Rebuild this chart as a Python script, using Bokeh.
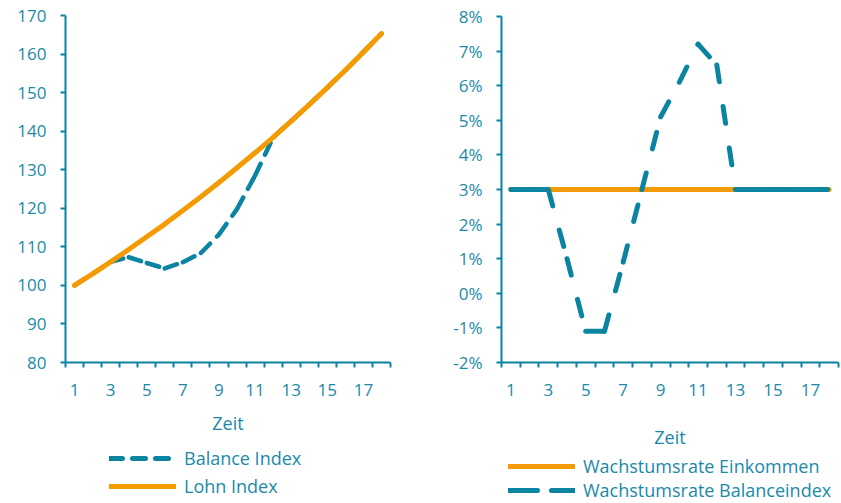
from bokeh.plotting import figure
from bokeh.layouts import row, column
from bokeh.models import (FixedTicker, Range1d, Legend, LegendItem,
                          PrintfTickFormatter)
from bokeh.embed import file_html
from bokeh.resources import INLINE

# ---- data ----
zeit = list(range(1, 19))
x_tick_labels = [1, 3, 5, 7, 9, 11, 13, 15, 17]
balance_index = [100, 103, 106.1, 107.3, 105.8, 104.4, 106.0, 108.4, 113.2,
                 119.8, 128.5, 138.4, 142.6, 146.9, 151.3, 155.8, 160.5, 165.3]
lohn_index = [100, 103, 106.1, 109.3, 112.6, 115.9, 119.4, 123.0, 126.7,
              130.5, 134.4, 138.4, 142.6, 146.9, 151.3, 155.8, 160.5, 165.3]
wachstum_einkommen = [3.0] * 18
wachstum_balance = [3.0, 3.0, 3.0, 1.0, -1.1, -1.1, 0.9, 3.0, 5.1,
                    6.1, 7.2, 6.6, 3.0, 3.0, 3.0, 3.0, 3.0, 3.0]
left_y_ticks = list(range(80, 171, 10))
right_y_ticks = list(range(-2, 9))
left_labels = ["Balance Index", "Lohn Index"]
right_labels = ["Wachstumsrate Einkommen", "Wachstumsrate Balanceindex"]

TEAL = "#0a84a1"
TEXT = "#1b8aa7"
ORANGE = "#f39b00"
FONT = "Open Sans"
FS = "17px"
FS_BIG = "18px"


def segments(xs, ys):
    return ([[xs[i], xs[i + 1]] for i in range(len(xs) - 1)],
            [[ys[i], ys[i + 1]] for i in range(len(ys) - 1)])


def style(p, yticks):
    p.outline_line_color = None
    p.xgrid.grid_line_color = None
    p.ygrid.grid_line_color = None
    p.background_fill_color = "white"
    p.border_fill_color = "white"
    minor = [i + 0.5 for i in range(0, 19)]
    p.xaxis.ticker = FixedTicker(ticks=x_tick_labels, minor_ticks=minor)
    p.yaxis.ticker = FixedTicker(ticks=yticks, minor_ticks=[])
    for ax in (p.xaxis[0], p.yaxis[0]):
        ax.axis_line_color = TEAL
        ax.axis_line_width = 2
        ax.major_tick_line_color = TEAL
        ax.major_tick_line_width = 2
        ax.major_tick_out = 5
        ax.major_tick_in = 0
        ax.minor_tick_line_color = TEAL
        ax.minor_tick_line_width = 2
        ax.minor_tick_out = 5
        ax.minor_tick_in = 0
        ax.major_label_text_color = TEXT
        ax.major_label_text_font = FONT
        ax.major_label_text_font_size = FS
        ax.axis_label_text_color = TEXT
        ax.axis_label_text_font = FONT
        ax.axis_label_text_font_size = FS_BIG
        ax.axis_label_text_font_style = "normal"
    p.xaxis.major_tick_line_color = None
    p.xaxis.major_label_standoff = 16
    p.yaxis.major_label_standoff = 14


def legend_figure(frame_width, border_left, border_right, frame_height):
    # the legend panel: the series are drawn again here outside the visible
    # range, only so that the legend can show their swatches
    f = figure(frame_width=frame_width, frame_height=frame_height,
               min_border_left=border_left, min_border_right=border_right,
               min_border_top=0, min_border_bottom=0,
               x_range=Range1d(-100, -99), y_range=Range1d(-100, -99),
               x_axis_type=None, y_axis_type=None,
               output_backend="svg", toolbar_location=None)
    f.outline_line_color = None
    f.xgrid.grid_line_color = None
    f.ygrid.grid_line_color = None
    f.border_fill_color = "white"
    return f


def legend_style(leg, spacing):
    leg.glyph_width = 67
    leg.glyph_height = 24
    leg.label_height = 24
    leg.spacing = spacing
    leg.padding = 0
    leg.margin = 0
    leg.label_standoff = 8
    leg.border_line_color = None
    leg.background_fill_alpha = 0
    leg.label_text_font = FONT
    leg.label_text_font_size = FS_BIG
    leg.label_text_color = TEXT


# ---- left chart ----
p1 = figure(frame_width=325, frame_height=347, min_border_left=65,
            min_border_right=58, min_border_top=15, min_border_bottom=82,
            x_range=Range1d(0.5, 18.5), y_range=Range1d(80, 170),
            output_backend="svg", toolbar_location=None, x_axis_label="Zeit")
style(p1, left_y_ticks)
p1.xaxis.axis_label_standoff = 12

bx, by = segments(zeit, balance_index)
p1.multi_line(xs=bx, ys=by, line_color=TEAL, line_width=4.5,
              line_dash="13 10", line_cap="round", line_join="round")
p1.line(zeit, lohn_index, line_color=ORANGE, line_width=5,
        line_cap="round", line_join="round")

lf1 = legend_figure(325, 65, 58, 54)
s_bal = lf1.multi_line(xs=bx, ys=by, line_color=TEAL, line_width=5,
                       line_dash="13 10", line_cap="round")
s_lohn = lf1.line(zeit, lohn_index, line_color=ORANGE, line_width=5,
                  line_cap="round")
leg1 = Legend(items=[LegendItem(label=left_labels[0], renderers=[s_bal]),
                     LegendItem(label=left_labels[1], renderers=[s_lohn])],
              location=(44, 0), orientation="vertical")
legend_style(leg1, 4)
lf1.add_layout(leg1, "center")

# ---- right chart ----
p2 = figure(frame_width=337, frame_height=346, min_border_left=53,
            min_border_right=2, min_border_top=16, min_border_bottom=92,
            x_range=Range1d(0.5, 18.5), y_range=Range1d(-2, 8),
            output_backend="svg", toolbar_location=None, x_axis_label="Zeit")
style(p2, right_y_ticks)
p2.yaxis.formatter = PrintfTickFormatter(format="%d%%")
p2.xaxis.axis_label_standoff = 26

p2.line(zeit, wachstum_einkommen, line_color=ORANGE, line_width=5,
        line_cap="round")
wx, wy = segments(zeit, wachstum_balance)
p2.multi_line(xs=wx, ys=wy, line_color=TEAL, line_width=5,
              line_dash="17 25", line_cap="round", line_join="round")

lf2 = legend_figure(337, 53, 2, 48)
s_ein = lf2.line(zeit, wachstum_einkommen, line_color=ORANGE, line_width=5,
                 line_cap="round")
s_wb = lf2.line(zeit, wachstum_balance, line_color=TEAL, line_width=5,
                line_dash="29 14", line_cap="round")
leg2 = Legend(items=[LegendItem(label=right_labels[0], renderers=[s_ein]),
                     LegendItem(label=right_labels[1], renderers=[s_wb])],
              location=(7, 0), orientation="vertical")
legend_style(leg2, 0)
lf2.add_layout(leg2, "center")

layout = row(column(p1, lf1, spacing=0), column(p2, lf2, spacing=0), spacing=0)
open("out.html", "w").write(file_html(layout, INLINE))
